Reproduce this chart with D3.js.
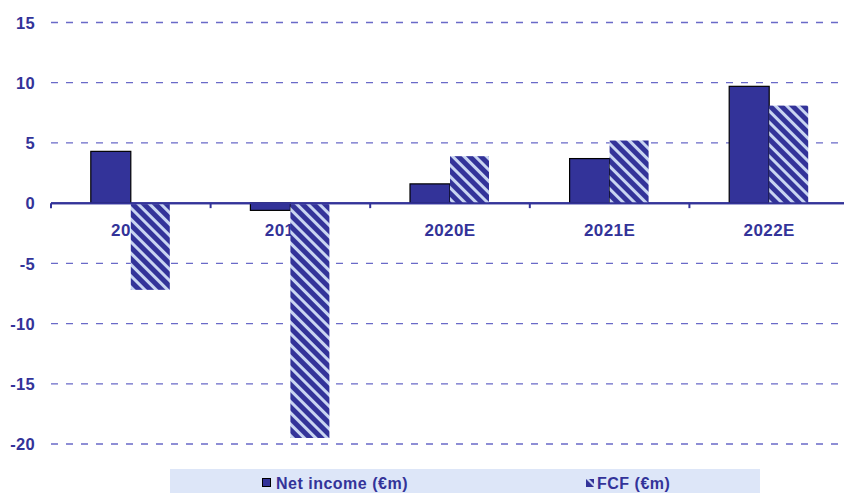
<!DOCTYPE html>
<html><head><meta charset="utf-8">
<script src="https://cdn.jsdelivr.net/npm/d3@7"></script>
<style>body{margin:0;background:#fff;}svg{display:block;font-family:"Liberation Sans",Arial,sans-serif;font-weight:bold;}</style>
</head><body>
<svg id="c" width="844" height="493"></svg>
<script>
const categories = ["2018", "2019E", "2020E", "2021E", "2022E"];
const netIncome = [4.3, -0.6, 1.6, 3.7, 9.7];
const fcf = [-7.2, -19.5, 3.9, 5.2, 8.1];
const yTicks = [15, 10, 5, 0, -5, -10, -15, -20];
const seriesNames = ["Net income (€m)", "FCF (€m)"];

const dark = "#333399", light = "#c9d5f2";
const svg = d3.select("#c");
const defs = svg.append("defs");
const pat = defs.append("pattern").attr("id", "stripe").attr("patternUnits", "userSpaceOnUse")
  .attr("width", 8).attr("height", 8).attr("patternTransform", "rotate(-45)");
pat.append("rect").attr("width", 8).attr("height", 8).attr("fill", dark);
pat.append("rect").attr("x", 0).attr("width", 3).attr("height", 8).attr("fill", light);

const x = d3.scaleBand().domain(categories).range([51, 849]);
const y = d3.scaleLinear().domain([-20, 15]).range([444, 22.5]);

// gridlines
svg.append("g").selectAll("line").data(yTicks.filter(d => d !== 0)).join("line")
  .attr("x1", 51).attr("x2", 844).attr("y1", d => y(d)).attr("y2", d => y(d))
  .attr("stroke", "#6a6ac8").attr("stroke-width", 1.3).attr("stroke-dasharray", "7,8");

// y labels
const yAxis = d3.axisLeft(y).tickValues(yTicks).tickSize(0).tickPadding(0).tickFormat(d => String(d));
const ya = svg.append("g").attr("transform", "translate(35,0)").call(yAxis);
ya.select(".domain").remove();
ya.selectAll("text").attr("fill", dark).attr("font-size", 16.5).attr("font-weight", "bold")
  .attr("letter-spacing", 0.3)
  .attr("font-family", "'Liberation Sans', Arial, sans-serif").attr("dy", "0.35em");

// category labels (behind bars)
svg.append("g").selectAll("text").data(categories).join("text")
  .attr("x", d => x(d) + x.bandwidth() / 2).attr("y", 236)
  .attr("text-anchor", "middle").attr("fill", dark).attr("font-size", 17)
  .attr("letter-spacing", 0.4).text(d => d);

// zero axis
const y0 = y(0);
svg.append("line").attr("x1", 51).attr("x2", 844).attr("y1", y0).attr("y2", y0)
  .attr("stroke", dark).attr("stroke-width", 2);
svg.append("g").selectAll("line").data(categories.concat(["end"])).join("line")
  .attr("x1", (d, i) => 51 + i * x.step()).attr("x2", (d, i) => 51 + i * x.step())
  .attr("y1", y0).attr("y2", y0 + 5).attr("stroke", dark).attr("stroke-width", 2);

const bw = 40;
// net income bars
svg.append("g").selectAll("rect").data(netIncome).join("rect")
  .attr("x", (d, i) => x(categories[i]) + x.bandwidth() / 2 - bw)
  .attr("y", d => y(Math.max(0, d))).attr("width", bw)
  .attr("height", d => Math.abs(y(d) - y0))
  .attr("fill", dark).attr("stroke", "#000").attr("stroke-width", 1.2);
// fcf bars
svg.append("g").selectAll("rect").data(fcf).join("rect")
  .attr("x", (d, i) => x(categories[i]) + x.bandwidth() / 2)
  .attr("y", d => y(Math.max(0, d)) + (d < 0 ? 1 : 0)).attr("width", bw - 1)
  .attr("height", d => Math.abs(y(d) - y0) - (d < 0 ? 1 : 0))
  .attr("fill", "url(#stripe)");
// redraw axis line over bars
svg.append("line").attr("x1", 51).attr("x2", 844).attr("y1", y0).attr("y2", y0)
  .attr("stroke", dark).attr("stroke-width", 2);

// legend
const lg = svg.append("g");
lg.append("rect").attr("x", 170).attr("y", 469).attr("width", 590).attr("height", 24).attr("fill", "#dde6f8");
lg.append("rect").attr("x", 262.5).attr("y", 478.5).attr("width", 8).attr("height", 8)
  .attr("fill", dark).attr("stroke", "#000").attr("stroke-width", 1);
lg.append("text").attr("x", 276).attr("y", 489).attr("fill", dark).attr("font-size", 16)
  .attr("letter-spacing", 0.5).text(seriesNames[0]);
const ic = lg.append("g").attr("transform", "translate(586,479)");
ic.append("rect").attr("width", 8).attr("height", 8).attr("fill", dark);
ic.append("path").attr("d", "M0,0 L3,0 L8,5 L8,8 Z").attr("fill", light);
lg.append("text").attr("x", 597).attr("y", 489).attr("fill", dark).attr("font-size", 16)
  .attr("letter-spacing", 0.5).text(seriesNames[1]);
</script>
</body></html>
